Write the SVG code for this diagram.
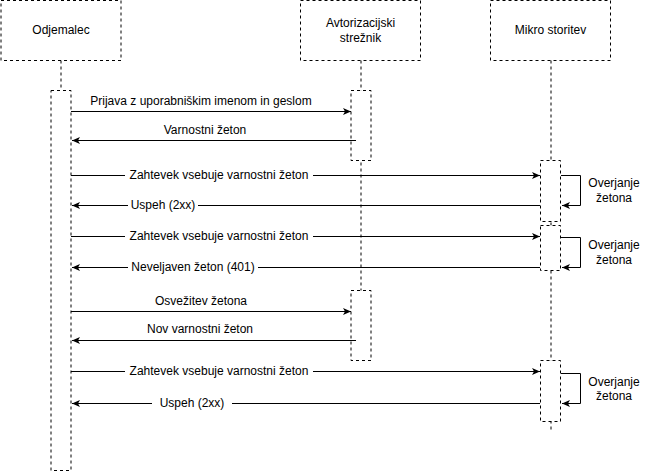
<svg xmlns="http://www.w3.org/2000/svg" width="651" height="472" viewBox="0 0 651 472">
<style>
.box{fill:#fff;stroke:#000;stroke-width:1;stroke-dasharray:3 3}
.life{fill:none;stroke:#000;stroke-width:1;stroke-dasharray:3 3}
.msg{fill:none;stroke:#000;stroke-width:1}
.t{font-family:"Liberation Sans",Arial,Helvetica,sans-serif;font-size:12px;fill:#000;text-anchor:middle;dominant-baseline:central}
.bg{fill:#fff}
</style>
<defs>
<marker id="arr" viewBox="0 0 8 8" refX="8" refY="4" markerWidth="8" markerHeight="8" markerUnits="userSpaceOnUse" orient="auto">
<path d="M0,0.5 L8,4 L0,7.5 L2,4 z" fill="#000"/>
</marker>
</defs>
<rect width="651" height="472" fill="#fff"/>

<g id="odjemalec">
<rect class="box" x="1" y="0.5" width="120" height="60"/>
<text class="t" x="61" y="30">Odjemalec</text>
<line class="life" x1="61" y1="60.5" x2="61" y2="90"/>
<rect class="box" x="51" y="90.5" width="20" height="380"/>
</g>

<g id="avtorizacijski">
<rect class="box" x="300.5" y="0.5" width="120" height="60"/>
<text class="t" x="360.5" y="23">Avtorizacijski</text>
<text class="t" x="360.5" y="38">strežnik</text>
<line class="life" x1="361" y1="60.5" x2="361" y2="360"/>
<rect class="box" x="351" y="90.5" width="20" height="70"/>
<rect class="box" x="351" y="290.5" width="20" height="70"/>
</g>

<g id="mikro">
<rect class="box" x="490.5" y="0.5" width="120" height="60"/>
<text class="t" x="550.5" y="30">Mikro storitev</text>
<line class="life" x1="551" y1="60.5" x2="551" y2="431"/>
<rect class="box" x="540.5" y="160.5" width="20" height="61"/>
<rect class="box" x="540.5" y="225.5" width="20" height="45"/>
<rect class="box" x="540.5" y="360.5" width="20" height="61"/>
</g>

<g id="connectors">
<line class="msg" x1="71" y1="111.5" x2="351" y2="111.5" marker-end="url(#arr)"/>
<text class="t" x="201" y="101">Prijava z uporabniškim imenom in geslom</text>

<line class="msg" x1="356" y1="140.5" x2="72" y2="140.5" marker-end="url(#arr)"/>
<text class="t" x="205" y="130">Varnostni žeton</text>

<line class="msg" x1="71" y1="175.5" x2="540" y2="175.5" marker-end="url(#arr)"/>
<rect class="bg" x="125" y="168" width="188" height="15"/>
<text class="t" x="219" y="175">Zahtevek vsebuje varnostni žeton</text>

<line class="msg" x1="540" y1="205.5" x2="72" y2="205.5" marker-end="url(#arr)"/>
<rect class="bg" x="128" y="198" width="70" height="15"/>
<text class="t" x="163" y="205">Uspeh (2xx)</text>

<path class="msg" d="M561,175.5 H580.5 V205.5 H562" marker-end="url(#arr)"/>
<text class="t" x="614" y="183">Overjanje</text>
<text class="t" x="614" y="198">žetona</text>

<line class="msg" x1="71" y1="236.5" x2="540" y2="236.5" marker-end="url(#arr)"/>
<rect class="bg" x="125" y="229" width="188" height="15"/>
<text class="t" x="219" y="236">Zahtevek vsebuje varnostni žeton</text>

<line class="msg" x1="540" y1="267.5" x2="72" y2="267.5" marker-end="url(#arr)"/>
<rect class="bg" x="128" y="260" width="130" height="15"/>
<text class="t" x="193" y="267">Neveljaven žeton (401)</text>

<path class="msg" d="M561,237.5 H580.5 V267.5 H562" marker-end="url(#arr)"/>
<text class="t" x="614" y="245">Overjanje</text>
<text class="t" x="614" y="260">žetona</text>

<line class="msg" x1="71" y1="311.5" x2="351" y2="311.5" marker-end="url(#arr)"/>
<text class="t" x="201" y="301">Osvežitev žetona</text>

<line class="msg" x1="356" y1="340.5" x2="72" y2="340.5" marker-end="url(#arr)"/>
<text class="t" x="200" y="329">Nov varnostni žeton</text>

<line class="msg" x1="71" y1="371.5" x2="540" y2="371.5" marker-end="url(#arr)"/>
<rect class="bg" x="125" y="364" width="188" height="15"/>
<text class="t" x="219" y="371">Zahtevek vsebuje varnostni žeton</text>

<line class="msg" x1="540" y1="403.5" x2="72" y2="403.5" marker-end="url(#arr)"/>
<rect class="bg" x="152" y="396" width="80" height="15"/>
<text class="t" x="192" y="403">Uspeh (2xx)</text>

<path class="msg" d="M561,373.5 H580.5 V403.5 H562" marker-end="url(#arr)"/>
<text class="t" x="614" y="382">Overjanje</text>
<text class="t" x="614" y="396">žetona</text>
</g>
</svg>
